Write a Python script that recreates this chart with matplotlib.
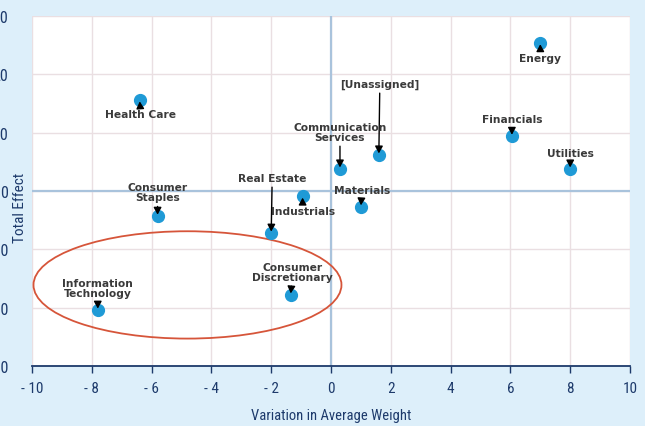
import matplotlib
matplotlib.use("Agg")
import matplotlib.pyplot as plt
from matplotlib.patches import Ellipse

# sectors: variation in average weight vs total effect
sectors = ["Energy", "Health Care", "[Unassigned]", "Communication\nServices",
           "Financials", "Utilities", "Consumer\nStaples", "Real Estate",
           "Industrials", "Materials", "Information\nTechnology",
           "Consumer\nDiscretionary"]
weight_var = [7.0, -6.4, 1.6, 0.3, 6.05, 8.0, -5.8, -2.0, -0.95, 1.0, -7.8, -1.35]
total_effect = [25.4, 15.6, 6.2, 3.8, 9.4, 3.8, -4.3, -7.2, -0.9, -2.7, -20.4, -17.8]

x_ticks = [-10, -8, -6, -4, -2, 0, 2, 4, 6, 8, 10]
y_ticks = [-30, -20, -10, 0, 10, 20, 30]

# label offsets from the point, in pixels
label_offsets = {
    "Energy": (0, -15), "Health Care": (1, -14), "[Unassigned]": (1, 71),
    "Communication\nServices": (0, 37), "Financials": (0, 17),
    "Utilities": (0, 16), "Consumer\nStaples": (0, 24), "Real Estate": (1, 55),
    "Industrials": (0, -15), "Materials": (1, 17),
    "Information\nTechnology": (0, 22), "Consumer\nDiscretionary": (2, 23),
}

navy = "#1d3a6b"
bg = "#ddeffa"
narrow = ["Roboto Condensed", "Roboto", "DejaVu Sans"]

fig = plt.figure(figsize=(6.45, 4.27), dpi=100)
fig.patch.set_facecolor(bg)
ax = fig.add_axes([32 / 645, 1 - 367 / 427, 598 / 645, 350 / 427])
ax.set_facecolor("white")

ax.set_xlim(-10, 10)
ax.set_ylim(-30, 30)
ax.set_xticks(x_ticks)
ax.set_yticks(y_ticks)
ax.set_xticklabels([("- %d" % -t) if t < 0 else str(t) for t in x_ticks],
                   family=narrow, color=navy, fontsize=11)
ax.set_yticklabels([("- %d" % -t) if t < 0 else str(t) for t in y_ticks],
                   family=narrow, color=navy, fontsize=11.5)
ax.tick_params(axis="x", direction="out", length=5, width=1, color=navy, pad=6)
ax.tick_params(axis="y", length=0, pad=17)

ax.grid(True, color="#eadfe2", lw=1)
ax.set_axisbelow(True)
ax.axhline(0, color="#a9c3dc", lw=1.6, zorder=1)
ax.axvline(0, color="#a9c3dc", lw=1.6, zorder=1)

for s in ["top", "right", "left"]:
    ax.spines[s].set_visible(False)
ax.spines["bottom"].set_color(navy)
ax.spines["bottom"].set_linewidth(1.3)

ax.set_xlabel("Variation in Average Weight", family=narrow, color=navy, fontsize=10.5)
ax.xaxis.set_label_coords(0.5, -0.12)
ax.set_ylabel("Total Effect", family=narrow, color=navy, fontsize=11)
ax.yaxis.set_label_coords(-0.009, 0.455)

ax.plot(weight_var, total_effect, "o", ms=8.5, color="#1f9ad6", zorder=3)

for name, xv, yv in zip(sectors, weight_var, total_effect):
    dx, dy = label_offsets[name]
    ax.annotate(name, xy=(xv, yv), xytext=(dx, dy), textcoords="offset pixels",
                ha="center", va="center", fontsize=7.7, fontweight="bold",
                family="DejaVu Sans", color="#3a3a3a", linespacing=1.05,
                arrowprops=dict(arrowstyle="-|>,head_length=0.55,head_width=0.3",
                                color="black", lw=1, shrinkA=1, shrinkB=1),
                zorder=4)

ax.add_patch(Ellipse((-4.8, -16.1), 10.3, 18.4, fill=False,
                     edgecolor="#d6553a", lw=1.3, zorder=2))

fig.savefig("out.png", dpi=100, facecolor=bg)
